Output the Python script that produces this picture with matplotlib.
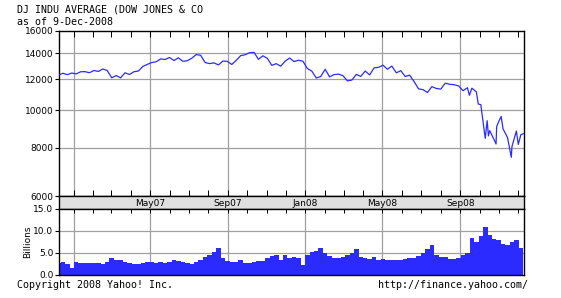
import matplotlib
matplotlib.use('Agg')
import matplotlib.pyplot as plt
import matplotlib.dates as mdates
import numpy as np
import pandas as pd

# weekly closes (Fridays), Dec 2006 .. Dec 2008
week_start = '2006-12-08'
week_end = '2008-12-05'
close_weekly = [12307, 12446, 12343, 12463,
                12398, 12556, 12565, 12487,
                12653, 12580, 12768, 12647,
                12114, 12276, 12110, 12481, 12354,
                12560, 12612, 12961, 13120,
                13264, 13326, 13556, 13507,
                13668, 13424, 13639, 13361, 13408,
                13611, 13907, 13851, 13265,
                13182, 13239, 13079, 13379, 13358,
                13113, 13442, 13820, 13896,
                14066, 14093, 13522, 13806,
                13596, 13043, 13177, 12981, 13372,
                13626, 13340, 13450, 13366,
                12800, 12606, 12099, 12207,
                12743, 12183, 12348, 12381, 12266,
                11894, 11951, 12361, 12216,
                12610, 12325, 12849, 12891,
                13058, 12746, 12986, 12480, 12638,
                12210, 12307, 11843, 11347,
                11289, 11100, 11496, 11370,
                11327, 11734, 11659, 11628, 11544,
                11220, 11422, 11388, 11143,
                10325, 8451, 8852, 8378, 9325,
                8943, 8497, 8046, 8829,
                8635]
# a few extra daily points in the volatile autumn 2008 stretch
extra_dates = ['2008-09-15', '2008-09-29', '2008-10-13', '2008-10-15', '2008-10-27',
               '2008-10-28', '2008-11-04', '2008-11-20', '2008-12-01', '2008-12-09']
extra_close = [10917, 10365, 9387, 8578, 8175,
               9065, 9625, 7552, 8149, 8691]

# weekly average volume in billions
volume_weekly = [2.8, 2.9, 2.4, 1.6,
                 2.9, 2.8, 2.7, 2.8,
                 2.8, 2.7, 2.6, 2.9,
                 3.9, 3.3, 3.4, 2.9, 2.7,
                 2.6, 2.5, 2.8, 2.9,
                 3.0, 2.8, 2.9, 2.8,
                 3.0, 3.3, 3.2, 3.0, 2.8,
                 2.6, 3.0, 3.3, 4.0,
                 4.6, 5.3, 6.2, 3.8, 3.2,
                 3.0, 3.0, 3.4, 2.7,
                 2.8, 2.9, 3.2, 3.1,
                 3.9, 4.4, 4.5, 3.4, 4.5,
                 3.9, 4.2, 3.8, 2.3,
                 4.6, 5.2, 5.5, 6.1,
                 5.0, 4.4, 3.9, 3.8, 4.0,
                 4.6, 5.0, 5.8, 4.2,
                 3.8, 3.6, 4.0, 3.5,
                 3.6, 3.5, 3.4, 3.3, 3.5,
                 3.6, 3.8, 3.9, 4.3,
                 5.0, 6.0, 6.8, 4.6,
                 4.0, 4.2, 3.6, 3.6, 3.9,
                 4.5, 5.0, 8.5, 7.5,
                 8.8, 11.0, 9.0, 8.2, 8.0,
                 7.0, 6.8, 7.5, 8.0,
                 6.2]

price_ticks = [6000, 8000, 10000, 12000, 14000, 16000]
vol_ticks = [0, 5, 10, 15]
month_labels = ['May07', 'Sep07', 'Jan08', 'May08', 'Sep08']

week_dates = pd.date_range(week_start, week_end, freq='W-FRI')
s = pd.concat([pd.Series(close_weekly, index=week_dates),
               pd.Series(extra_close, index=pd.to_datetime(extra_dates))]).sort_index()

x0 = pd.Timestamp('2006-12-09')
x1 = pd.Timestamp('2008-12-10')
blue = '#2b2bff'
grid_c = '#a0a0a0'

fig = plt.figure(figsize=(5.61, 2.98), dpi=100)
W, H = 561.0, 298.0
L, R = 59, 524

def box(top, bottom):
    return [L / W, 1 - bottom / H, (R - L) / W, (bottom - top) / H]

ax1 = fig.add_axes(box(31, 196))
axb = fig.add_axes(box(196, 209))
ax2 = fig.add_axes(box(209, 275))

months = mdates.MonthLocator()
quad = mdates.MonthLocator(bymonth=[1, 5, 9])

# price panel
ax1.set_yscale('log')
ax1.set_ylim(6000, 16000)
ax1.set_xlim(x0, x1)
for v in price_ticks[1:-1]:
    ax1.axhline(v, color=grid_c, lw=0.9, zorder=1)
for d in pd.date_range('2007-01-01', '2008-12-01', freq='4MS'):
    ax1.axvline(d, color=grid_c, lw=0.9, zorder=1)
    ax2.axvline(d, color=grid_c, lw=0.9, zorder=0)
ax1.plot(s.index, s.values, color=blue, lw=0.9, zorder=3)
ax1.yaxis.set_minor_locator(matplotlib.ticker.NullLocator())
ax1.set_yticks(price_ticks)
ax1.set_yticklabels([str(v) for v in price_ticks], fontsize=6.5)
ax1.tick_params(axis='y', direction='out', length=3, width=0.8, pad=1)
ax1.xaxis.set_major_locator(months)
ax1.tick_params(axis='x', which='both', direction='in', length=4, width=0.7,
                top=True, bottom=True, labelbottom=False)

# date band
axb.set_facecolor('#e0e0e0')
axb.set_xlim(x0, x1)
axb.set_yticks([])
axb.set_xticks([])
for lab in month_labels:
    d = pd.to_datetime(lab, format='%b%y')
    axb.text(d, 0.45, lab, ha='center', va='center', fontsize=6.5,
             transform=axb.get_xaxis_transform())

# volume panel
ax2.bar(week_dates, volume_weekly, width=7.2, color=blue, lw=0, zorder=2)
ax2.set_xlim(x0, x1)
ax2.set_ylim(0, 15)
for v in [5, 10]:
    ax2.axhline(v, color=grid_c, lw=0.9, zorder=0)
ax2.set_yticks(vol_ticks)
ax2.set_yticklabels(['%.1f' % v for v in vol_ticks], fontsize=6.5)
ax2.tick_params(axis='y', direction='out', length=3, width=0.8, pad=1)
ax2.xaxis.set_major_locator(months)
ax2.tick_params(axis='x', which='both', direction='in', length=3, width=0.7,
                top=True, bottom=False, labelbottom=False)
ax2.set_ylabel('Billions', fontsize=6.5, labelpad=1)

for a in (ax1, axb, ax2):
    for sp in a.spines.values():
        sp.set_linewidth(1.0)

mono = 'DejaVu Sans Mono'
fig.text(17 / W, 1 - 13 / H, 'DJ INDU AVERAGE (DOW JONES & CO', family=mono, fontsize=7.2)
fig.text(17 / W, 1 - 25 / H, 'as of 9-Dec-2008', family=mono, fontsize=7.2)
fig.text(17 / W, 1 - 288 / H, 'Copyright 2008 Yahoo! Inc.', family=mono, fontsize=7.2)
fig.text(528 / W, 1 - 288 / H, 'http://finance.yahoo.com/', family=mono, fontsize=7.2, ha='right')

fig.savefig('out.png', dpi=100)
